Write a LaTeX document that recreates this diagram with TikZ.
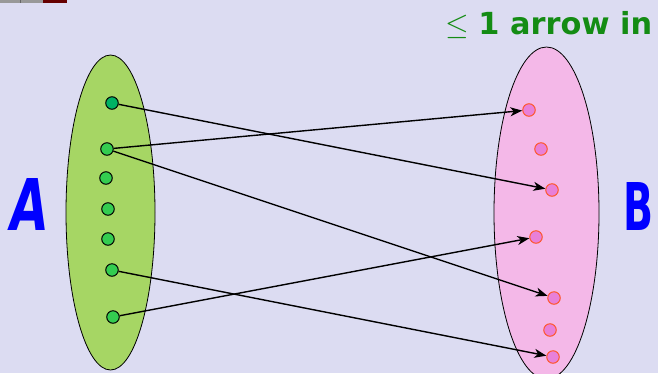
\documentclass[tikz,border=0pt]{standalone}
\usepackage{fontspec}
\setmainfont{DejaVu Sans}
\usepackage{amssymb}
\usetikzlibrary{arrows.meta,shapes.geometric}
\definecolor{bg}{RGB}{220,220,242}
\definecolor{gfill}{RGB}{166,214,100}
\definecolor{gdotA}{RGB}{0,178,100}
\definecolor{gdot}{RGB}{52,204,80}
\definecolor{pfill}{RGB}{244,184,232}
\definecolor{pdot}{RGB}{232,128,216}
\definecolor{pedge}{RGB}{255,85,40}
\definecolor{tgreen}{RGB}{20,140,20}
\begin{document}
\begin{tikzpicture}[x=1pt,y=-1pt,
  gdotst/.style={circle,draw=black,line width=1pt,fill=gdot,inner sep=0pt,minimum size=12.5pt},
  pdotst/.style={circle,draw=pedge,line width=1pt,fill=pdot,inner sep=0pt,minimum size=12.5pt},
  arr/.style={draw=black,line width=1.4pt,-{Stealth[length=12pt,width=9pt,inset=3.5pt]}},
  setlabel/.style={text=blue,font=\bfseries,inner sep=0pt}]
\useasboundingbox (0,0) rectangle (658,373);
\fill[bg] (0,0) rectangle (658,373);
% top-left strip
\fill[gray!80] (0,0) rectangle (43,2.5);
\fill[black!60] (20,0) rectangle (21,2.5);
\fill[red!40!black] (43,0) rectangle (67,2.5);
% sets
\node[ellipse,draw=black,line width=0.8pt,fill=gfill,minimum width=89pt,minimum height=315pt,inner sep=0pt] (A) at (110.5,212.5) {};
\node[ellipse,draw=black,line width=0.8pt,fill=pfill,minimum width=105pt,minimum height=332pt,inner sep=0pt] (B) at (546.5,213) {};
% green dots
\node[gdotst,fill=gdotA] (g1) at (112,103) {};
\node[gdotst] (g2) at (107,149) {};
\node[gdotst] (g3) at (106,178) {};
\node[gdotst] (g4) at (108,209) {};
\node[gdotst] (g5) at (108,239) {};
\node[gdotst] (g6) at (112,270) {};
\node[gdotst] (g7) at (113,317) {};
% pink dots
\node[pdotst] (p1) at (529,110) {};
\node[pdotst] (p2) at (541,149) {};
\node[pdotst] (p3) at (552,190) {};
\node[pdotst] (p4) at (536,237) {};
\node[pdotst] (p5) at (554,298) {};
\node[pdotst] (p6) at (550,330) {};
\node[pdotst] (p7) at (553,357) {};
% arrows
\draw[arr] (g1) -- (p3);
\draw[arr] (g2) -- (p1);
\draw[arr] (g2) -- (p5);
\draw[arr] (g6) -- (p7);
\draw[arr] (g7) -- (p4);
% labels
\node[setlabel,xslant=0.12] (la) at (30,204) {\resizebox{38pt}{52pt}{A}};
\node[setlabel] (lb) at (638,206) {\resizebox{30pt}{48pt}{B}};
\node[text=tgreen,inner sep=0pt,anchor=west] (t) at (445,25) {\resizebox{207pt}{!}{$\leq$\ \bfseries 1 arrow in}};
\end{tikzpicture}
\end{document}
